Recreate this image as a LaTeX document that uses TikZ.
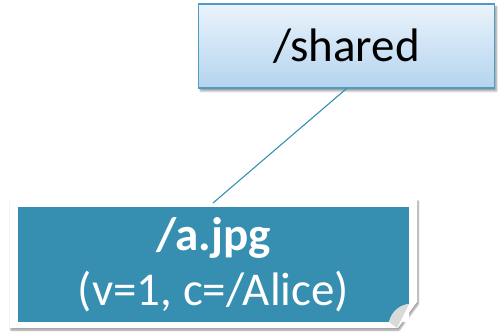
\documentclass[tikz,border=0pt]{standalone}
\usepackage{fontspec}
\setmainfont{Carlito}
\usetikzlibrary{shadows.blur}
\definecolor{teal}{HTML}{368FB0}
\definecolor{boxtop}{HTML}{EAF3FB}
\definecolor{boxbot}{HTML}{B4D4EF}
\definecolor{boxline}{HTML}{4E9CC2}
\begin{document}
\begin{tikzpicture}[x=1pt,y=1pt,
  dirbox/.style={draw=boxline,line width=1.2pt,top color=boxtop,bottom color=boxbot,
    minimum width=296pt,minimum height=84pt,inner sep=0pt,
    blur shadow={shadow xshift=2pt,shadow yshift=-3pt,shadow blur steps=6,shadow opacity=40},
    font=\fontsize{47}{50}\selectfont},
  link/.style={draw=teal,line width=1.1pt}]
\useasboundingbox (0,0) rectangle (500,333);
% directory node
\node[dirbox] (shared) at (346.5,287) {/shared};
% paper note with curled corner
\path[fill=white,blur shadow={shadow xshift=1pt,shadow yshift=-2pt,shadow blur steps=6,shadow opacity=45}]
  (10,134) -- (417,134) -- (417,31) -- (398,5) -- (10,5) -- cycle;
\node[fill=teal,minimum width=391pt,minimum height=115pt,inner sep=0pt,text=white,
  align=center,font=\fontsize{47}{55}\selectfont] (file) at (213.5,68.5)
  {\textbf{/a.jpg}\\(v=1, c=/Alice)};
% curled corner over the teal panel
\fill[white] (389,11) -- (409,11) -- (409,29) .. controls (400,28) and (392,22) .. cycle;
\fill[gray!30] (389,11) .. controls (392,22) and (400,28) .. (409,29) -- (397,5) -- cycle;
\coordinate (top) at (213,130);
\draw[link] (shared.south) -- (top);
\end{tikzpicture}
\end{document}
